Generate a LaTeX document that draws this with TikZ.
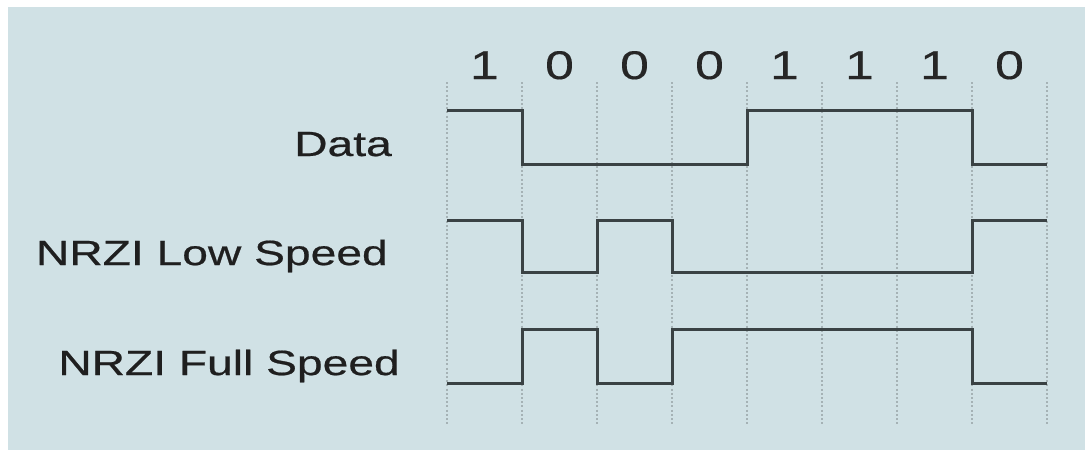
\documentclass[tikz,border=0pt]{standalone}
\usepackage{fontspec}
\setmainfont{Liberation Sans}
\newfontfamily\labfont[FakeStretch=1.32,FakeBold=0.6]{Liberation Sans}
\newfontfamily\digfont[FakeStretch=1.3,FakeBold=0.3]{Liberation Sans}
\definecolor{bg}{RGB}{208,225,229}
\definecolor{wave}{RGB}{58,66,68}
\definecolor{grid}{RGB}{165,178,181}
\begin{document}
\begin{tikzpicture}[x=1pt,y=-1pt,
  lab/.style={inner sep=0pt,anchor=base east,font=\labfont\fontsize{35}{40}\selectfont,text=black!88},
  digit/.style={inner sep=0pt,anchor=base,font=\digfont\fontsize{40}{44}\selectfont,text=black!85},
  gridline/.style={draw=grid,line width=1.6pt,dash pattern=on 2pt off 2.2pt},
  wavel/.style={draw=wave,line width=3pt,line join=miter}]
\useasboundingbox (0,0) rectangle (1085,450);
\fill[white] (0,0) rectangle (1085,450);
\fill[bg] (8,7) rectangle (1085,450);
% grid
\foreach \i in {0,...,8} {
  \draw[gridline] (447+75*\i,82) -- (447+75*\i,425);
}
% digits
\foreach \d [count=\i from 0] in {1,0,0,0,1,1,1,0} {
  \node[digit] (d\i) at (484.5+75*\i,79) {\d};
}
% labels
\node[lab] (ldata) at (392,156) {Data};
\node[lab] (llow) at (388,265) {NRZI Low Speed};
\node[lab] (lfull) at (400,375) {NRZI Full Speed};
% waveforms
\draw[wavel] (447,110) -- (522,110) -- (522,164) -- (747,164) -- (747,110) -- (972,110) -- (972,164) -- (1047,164);
\draw[wavel] (447,220) -- (522,220) -- (522,272) -- (597,272) -- (597,220) -- (672,220) -- (672,272) -- (972,272) -- (972,220) -- (1047,220);
\draw[wavel] (447,383) -- (522,383) -- (522,329) -- (597,329) -- (597,383) -- (672,383) -- (672,329) -- (972,329) -- (972,383) -- (1047,383);
\end{tikzpicture}
\end{document}
